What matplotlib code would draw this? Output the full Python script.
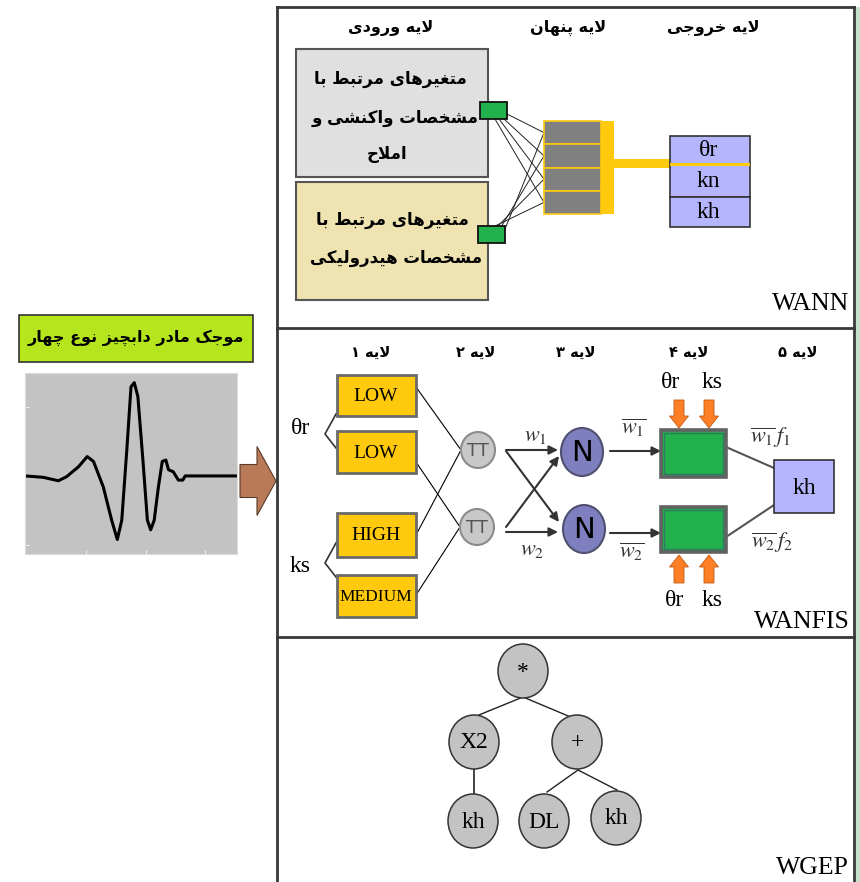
import numpy as np
import matplotlib
matplotlib.use("Agg")
import matplotlib.pyplot as plt
from matplotlib.patches import Rectangle, Ellipse, FancyArrow

plt.rcParams['mathtext.fontset'] = 'stix'

###############################################################################
# Data
###############################################################################
WANN_HEADERS = ["لایه ورودی", "لایه پنهان", "لایه خروجی"]
BOX1_LINES = ["متغیرهای مرتبط با", "مشخصات واکنشی و", "املاح"]
BOX2_LINES = ["متغیرهای مرتبط با", "مشخصات هیدرولیکی"]
WANN_OUTPUTS = ["θr", "kn", "kh"]
HIDDEN_CELLS = 4

ANFIS_HEADERS = ["لایه ۱", "لایه ۲", "لایه ۳", "لایه ۴", "لایه ۵"]
MF_LABELS = ["LOW", "LOW", "HIGH", "MEDIUM"]
ANFIS_INPUTS = ["θr", "ks"]

GEP_NODES = ["*", "X2", "+", "kh", "DL", "kh"]
PANEL_NAMES = ["WANN", "WANFIS", "WGEP"]

WAVELET_TITLE = "موجک مادر دابچیز نوع چهار"
# db4 mother wavelet
wav_t = [-0.05, 0.56, 1.07, 1.35, 1.74, 2.04, 2.25, 2.58, 2.86, 3.05, 3.20, 3.37,
         3.51, 3.62, 3.74, 3.91, 4.06, 4.17, 4.29, 4.43, 4.56, 4.68, 4.77, 4.93,
         5.10, 5.25, 5.33, 7.09]
wav_psi = [0.0, -0.02, -0.07, -0.01, 0.13, 0.28, 0.21, -0.16, -0.64, -0.92, -0.64, 0.38,
           1.29, 1.35, 1.15, 0.23, -0.64, -0.78, -0.64, -0.16, 0.21, 0.23, 0.09, 0.06,
           -0.06, -0.06, 0.0, 0.0]

###############################################################################
# Persian shaping (matplotlib has no bidi / joining of its own)
###############################################################################
FORMS = {
    'ا': ('\uFE8D', '\uFE8E'), 'ب': ('\uFE8F', '\uFE90', '\uFE91', '\uFE92'),
    'پ': ('\uFB56', '\uFB57', '\uFB58', '\uFB59'), 'ت': ('\uFE95', '\uFE96', '\uFE97', '\uFE98'),
    'ج': ('\uFE9D', '\uFE9E', '\uFE9F', '\uFEA0'), 'چ': ('\uFB7A', '\uFB7B', '\uFB7C', '\uFB7D'),
    'ح': ('\uFEA1', '\uFEA2', '\uFEA3', '\uFEA4'), 'خ': ('\uFEA5', '\uFEA6', '\uFEA7', '\uFEA8'),
    'د': ('\uFEA9', '\uFEAA'), 'ر': ('\uFEAD', '\uFEAE'), 'ز': ('\uFEAF', '\uFEB0'),
    'ش': ('\uFEB5', '\uFEB6', '\uFEB7', '\uFEB8'), 'ص': ('\uFEB9', '\uFEBA', '\uFEBB', '\uFEBC'),
    'ط': ('\uFEC1', '\uFEC2', '\uFEC3', '\uFEC4'), 'ع': ('\uFEC9', '\uFECA', '\uFECB', '\uFECC'),
    'غ': ('\uFECD', '\uFECE', '\uFECF', '\uFED0'), '\u06A9': ('\uFB8E', '\uFB8F', '\uFB90', '\uFB91'),
    'ل': ('\uFEDD', '\uFEDE', '\uFEDF', '\uFEE0'), 'م': ('\uFEE1', '\uFEE2', '\uFEE3', '\uFEE4'),
    'ن': ('\uFEE5', '\uFEE6', '\uFEE7', '\uFEE8'), 'ه': ('\uFEE9', '\uFEEA', '\uFEEB', '\uFEEC'),
    'و': ('\uFEED', '\uFEEE'), '\u06CC': ('\uFBFC', '\uFBFD', '\uFBFE', '\uFBFF'),
}


def fa(s):
    s = s.replace('\u064A', '\u06CC').replace('\u0643', '\u06A9')
    dual = lambda c: c in FORMS and len(FORMS[c]) == 4
    out, i = [], 0
    while i < len(s):
        c = s[i]
        if c not in FORMS:
            out.append(c)
            i += 1
            continue
        prev = i > 0 and dual(s[i - 1])
        if c == 'ل' and i + 1 < len(s) and s[i + 1] == 'ا':
            out.append('\uFEFC' if prev else '\uFEFB')
            i += 2
            continue
        nxt = dual(c) and i + 1 < len(s) and s[i + 1] in FORMS
        f = FORMS[c]
        out.append(f[3] if prev and nxt else f[2] if nxt else f[1] if prev else f[0])
        i += 1
    return ''.join(reversed(out))


FA = dict(family=['DejaVu Sans'], fontweight='bold', color='black', ha='center', va='center')
SERIF = dict(family=['Liberation Serif'], color='black', ha='center', va='center')

###############################################################################
# Figure
###############################################################################
fig = plt.figure(figsize=(8.6, 8.82), dpi=100)
ax = fig.add_axes([0, 0, 1, 1])
ax.set_xlim(0, 860)
ax.set_ylim(882, 0)
ax.axis('off')

# frame
fc = '#383838'
ax.add_patch(Rectangle((855.5, 7), 4.5, 875, fc='#c8e2d0', ec='none'))
ax.plot([277, 277], [7, 882], color=fc, lw=2)
ax.plot([854, 854], [7, 882], color=fc, lw=2)
ax.plot([277, 854], [7, 7], color=fc, lw=2)
ax.plot([277, 854], [328, 328], color=fc, lw=2)
ax.plot([277, 854], [637, 637], color=fc, lw=2)

# ---------------- left: wavelet ----------------
ax.add_patch(Rectangle((19, 315), 234, 47, fc='#b5e61d', ec='#333333', lw=1.2))
ax.text(136, 338, fa(WAVELET_TITLE), fontsize=11.5, **FA)

wax = fig.add_axes([25 / 860, 1 - 554 / 882, 212 / 860, 181 / 882])
wax.set_facecolor('#c3c3c3')
wax.plot(wav_t, wav_psi, color='black', lw=2.2)
wax.set_xlim(-0.05, 7.07)
wax.set_ylim(-1.13, 1.49)
wax.set_xticks([2, 4, 6])
wax.set_yticks([-1, 1])
wax.set_xticklabels([])
wax.set_yticklabels([])
wax.tick_params(direction='in', length=3, color='#eeeeee')
for sp in wax.spines.values():
    sp.set_color('#dddddd')

ax.add_patch(FancyArrow(240, 481, 36, 0, width=33, head_width=69, head_length=19,
                        length_includes_head=True, fc='#b97a57', ec='#5a3a2a', lw=0.8))

# ---------------- top: WANN ----------------
for txt, x in zip(WANN_HEADERS, [391, 568, 713]):
    ax.text(x, 28, fa(txt), fontsize=11.5, **FA)

ax.add_patch(Rectangle((296, 49), 192, 128, fc='#e0e0e0', ec='#555555', lw=1.5))
ax.add_patch(Rectangle((296, 182), 192, 118, fc='#efe3b2', ec='#555555', lw=1.5))
for txt, (x, y) in zip(BOX1_LINES, [(390, 79), (395, 118), (387, 154)]):
    ax.text(x, y, fa(txt), fontsize=12, **FA)
for txt, (x, y) in zip(BOX2_LINES, [(392, 220), (396, 258)]):
    ax.text(x, y, fa(txt), fontsize=12, **FA)

# hidden layer
cell_edges = np.linspace(121, 214, HIDDEN_CELLS + 1)
cell_mid = (cell_edges[:-1] + cell_edges[1:]) / 2
for k in range(HIDDEN_CELLS):
    ax.add_patch(Rectangle((544, cell_edges[k]), 57, cell_edges[k + 1] - cell_edges[k],
                           fc='#808080', ec='#ffc90e', lw=1.2, zorder=3))
ax.add_patch(Rectangle((601, 121), 13, 93, fc='#ffc90e', ec='none', zorder=3))
ax.add_patch(Rectangle((614, 159), 56, 9, fc='#ffc90e', ec='none', zorder=3))

# connections, every input node to every hidden cell
src1 = [(507, 114), (504, 119), (499, 119), (495, 119)]
src2 = [(505, 229), (501, 227), (497, 227), (493, 227)]
for k, y in enumerate(cell_mid):
    ax.plot([src1[k][0], 544], [src1[k][1], y], color='#222222', lw=0.7, zorder=2)
    ax.plot([src2[k][0], 544], [src2[k][1], y], color='#222222', lw=0.7, zorder=2)
ax.add_patch(Rectangle((480, 102), 27, 17, fc='#22b14c', ec='#111111', lw=1.3, zorder=4))
ax.add_patch(Rectangle((478, 226), 27, 17, fc='#22b14c', ec='#111111', lw=1.3, zorder=4))

# outputs
out_edges = [136, 164, 197, 227]
for k, lab in enumerate(WANN_OUTPUTS):
    ax.add_patch(Rectangle((670, out_edges[k]), 80, out_edges[k + 1] - out_edges[k],
                           fc='#b5b5fd', ec='#333333', lw=1.2, zorder=3))
    ax.text(708, (out_edges[k] + out_edges[k + 1]) / 2 + 1, lab, fontsize=17, zorder=5, **SERIF)
ax.add_patch(Rectangle((670, 162.5), 80, 3, fc='#ffc90e', ec='none', zorder=4))
ax.text(811, 304, PANEL_NAMES[0], fontsize=18.5, **SERIF)

# ---------------- middle: WANFIS ----------------
for txt, x in zip(ANFIS_HEADERS, [371, 476, 576, 689, 798]):
    ax.text(x, 352, fa(txt), fontsize=10.5, **FA)

mf_box = [(375, 416), (431, 473), (513, 557), (575, 617)]
for lab, (y0, y1) in zip(MF_LABELS, mf_box):
    ax.add_patch(Rectangle((337, y0), 79, y1 - y0, fc='#ffc90e', ec='#6a6a6a', lw=2, zorder=3))
    ax.text(376, (y0 + y1) / 2 + 1, lab, fontsize=14 if lab != 'MEDIUM' else 12.5, zorder=4,
            **SERIF)

ax.text(300, 428, ANFIS_INPUTS[0], fontsize=17, **SERIF)
ax.text(300, 567, ANFIS_INPUTS[1], fontsize=17, **SERIF)
ax.plot([336, 325, 336], [414, 434, 448], color='#333333', lw=1.2)
ax.plot([336, 325, 336], [543, 563, 577], color='#333333', lw=1.2)

pi_c = [(478, 450), (477, 527)]
ax.plot([416, 461], [387, 450], color='black', lw=0.8)
ax.plot([416, 460], [462, 527], color='black', lw=0.8)
ax.plot([416, 461], [535, 450], color='black', lw=0.8)
ax.plot([416, 460], [595, 527], color='black', lw=0.8)
for (x, y) in pi_c:
    ax.add_patch(Ellipse((x, y), 34, 36, fc='#c8c8c8', ec='#8c8c8c', lw=1.5, zorder=3))
    ax.text(x, y + 1, 'TT', fontsize=13, family=['DejaVu Sans'], color='#555555',
            ha='center', va='center', zorder=4)

arr = dict(arrowstyle='-|>', color='#333333', lw=1.5, mutation_scale=13, shrinkA=0, shrinkB=0)
ax.annotate('', xy=(558, 450), xytext=(506, 450), arrowprops=arr)
ax.annotate('', xy=(559, 522), xytext=(506, 451), arrowprops=arr)
ax.annotate('', xy=(558, 532), xytext=(506, 532), arrowprops=arr)
ax.annotate('', xy=(559, 456), xytext=(506, 527), arrowprops=arr)
ax.text(535, 436, r'$w_1$', fontsize=16, color='#333333', ha='center', va='center')
ax.text(532, 550, r'$w_2$', fontsize=16, color='#333333', ha='center', va='center')

for (x, y) in [(582, 452), (584, 529)]:
    ax.add_patch(Ellipse((x, y), 42, 48, fc='#7f7fc0', ec='#505070', lw=1.5, zorder=3))
    ax.text(x, y + 1, 'N', fontsize=21, family=['DejaVu Sans'], color='black',
            ha='center', va='center', zorder=4)

ax.annotate('', xy=(661, 451), xytext=(610, 451), arrowprops=arr)
ax.annotate('', xy=(661, 533), xytext=(610, 533), arrowprops=arr)
ax.text(634, 428, r'$\overline{w_1}$', fontsize=16, color='#333333', ha='center', va='center')
ax.text(632, 552, r'$\overline{w_2}$', fontsize=16, color='#333333', ha='center', va='center')

for y0, y1 in [(430, 477), (507, 552)]:
    ax.add_patch(Rectangle((661, y0), 65, y1 - y0, fc='#22b14c', ec='#626262', lw=2.6, zorder=3))
    ax.add_patch(Rectangle((664, y0 + 3), 59, y1 - y0 - 6, fc='none', ec='#2f7a60', lw=1, zorder=4))

orange = dict(width=10, head_width=19, head_length=12, length_includes_head=True,
              fc='#ff7f27', ec='#c05a10', lw=0.6, zorder=4)
for x in (679, 709):
    ax.add_patch(FancyArrow(x, 400, 0, 28, **orange))
    ax.add_patch(FancyArrow(x, 583, 0, -28, **orange))
ax.text(671, 383, ANFIS_INPUTS[0], fontsize=17, **SERIF)
ax.text(712, 383, ANFIS_INPUTS[1], fontsize=17, **SERIF)
ax.text(674, 600, ANFIS_INPUTS[0], fontsize=17, **SERIF)
ax.text(712, 600, ANFIS_INPUTS[1], fontsize=17, **SERIF)

ax.plot([726, 774], [447, 468], color='#555555', lw=1.5)
ax.plot([726, 774], [537, 505], color='#555555', lw=1.5)
ax.add_patch(Rectangle((774, 460), 60, 53, fc='#b5b5fd', ec='#333333', lw=1.2, zorder=3))
ax.text(804, 488, 'kh', fontsize=17, zorder=4, **SERIF)
ax.text(770, 438, r'$\overline{w_1}\,f_1$', fontsize=16, color='#333333', ha='center', va='center')
ax.text(772, 543, r'$\overline{w_2}\,f_2$', fontsize=16, color='#333333', ha='center', va='center')
ax.text(802, 622, PANEL_NAMES[1], fontsize=18.5, **SERIF)

# ---------------- bottom: WGEP ----------------
node_xy = [(523, 671), (474, 742), (577, 742), (473, 821), (544, 821), (616, 818)]
ax.plot([523, 474], [697, 717], color='#222222', lw=1)
ax.plot([523, 573], [697, 718], color='#222222', lw=1)
ax.plot([474, 474], [768, 795], color='#222222', lw=1.2)
ax.plot([578, 547], [770, 792], color='#222222', lw=1)
ax.plot([578, 617], [770, 790], color='#222222', lw=1)
for lab, (x, y) in zip(GEP_NODES, node_xy):
    ax.add_patch(Ellipse((x, y), 50, 54, fc='#c3c3c3', ec='#333333', lw=1.1, zorder=3))
    ax.text(x, y + 1, lab, fontsize=17, zorder=4, **SERIF)
ax.text(812, 868, PANEL_NAMES[2], fontsize=18.5, **SERIF)

fig.savefig('out.png', dpi=100)
